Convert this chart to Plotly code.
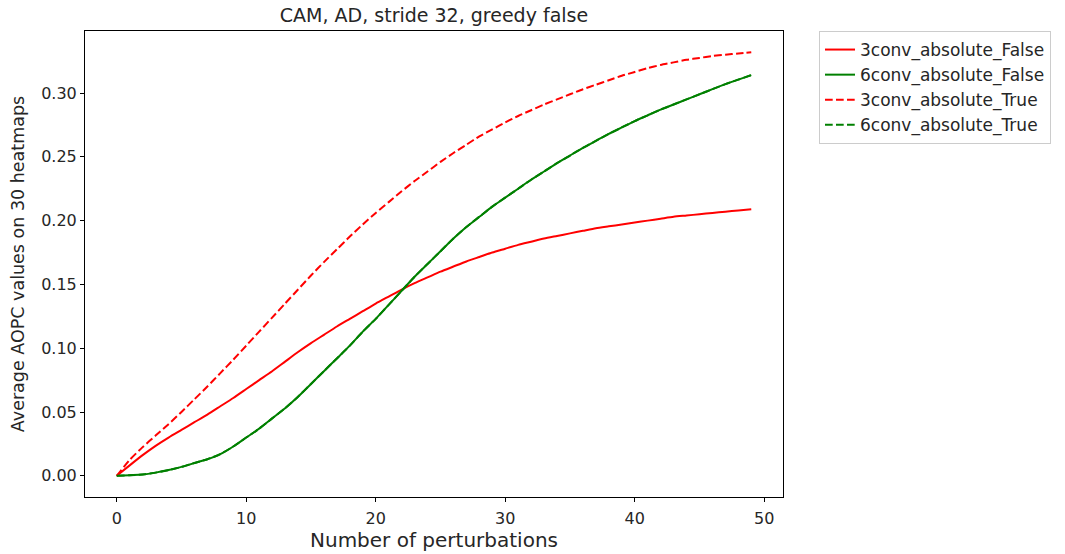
import plotly.graph_objects as go

perturbations = list(range(50))

conv3_abs_false = [0, 0.0082, 0.0162, 0.0235, 0.030, 0.036, 0.042, 0.048, 0.0545, 0.061,
                   0.068, 0.075, 0.082, 0.0895, 0.097, 0.104, 0.1105, 0.117, 0.123, 0.129,
                   0.135, 0.1405, 0.146, 0.151, 0.1555, 0.160, 0.164, 0.168, 0.1715, 0.175,
                   0.178, 0.181, 0.1835, 0.186, 0.188, 0.190, 0.192, 0.194, 0.1955, 0.197,
                   0.1985, 0.200, 0.2015, 0.203, 0.204, 0.205, 0.206, 0.207, 0.208, 0.209]

conv6_abs_false = [0, 0.0005, 0.001, 0.0025, 0.0045, 0.007, 0.010, 0.013, 0.017, 0.023,
                   0.030, 0.037, 0.045, 0.053, 0.062, 0.072, 0.082, 0.092, 0.102, 0.113,
                   0.123, 0.134, 0.145, 0.156, 0.166, 0.176, 0.186, 0.195, 0.203, 0.211,
                   0.218, 0.225, 0.232, 0.2385, 0.245, 0.251, 0.257, 0.2625, 0.268, 0.273,
                   0.278, 0.2825, 0.287, 0.291, 0.295, 0.299, 0.303, 0.307, 0.3105, 0.314]

conv3_abs_true = [0, 0.0125, 0.0225, 0.0315, 0.0405, 0.050, 0.060, 0.070, 0.0805, 0.091,
                  0.102, 0.113, 0.124, 0.135, 0.146, 0.157, 0.1675, 0.1775, 0.1875, 0.197,
                  0.206, 0.2145, 0.223, 0.231, 0.2385, 0.246, 0.253, 0.2595, 0.266, 0.2715,
                  0.277, 0.282, 0.2865, 0.291, 0.295, 0.299, 0.303, 0.3065, 0.310, 0.3135,
                  0.3165, 0.3195, 0.322, 0.324, 0.326, 0.3275, 0.329, 0.330, 0.331, 0.332]

# 6conv_absolute_True coincides with 6conv_absolute_False in the picture
conv6_abs_true = list(conv6_abs_false)

FONT = "DejaVu Sans"
DASH = "7.7px,3.3px"

fig = go.Figure()
fig.add_trace(go.Scatter(x=perturbations, y=conv3_abs_false, mode="lines",
                         name="3conv_absolute_False",
                         line=dict(color="#ff0000", width=2, shape="spline", smoothing=0.6)))
fig.add_trace(go.Scatter(x=perturbations, y=conv6_abs_false, mode="lines",
                         name="6conv_absolute_False",
                         line=dict(color="#008000", width=2, shape="spline", smoothing=0.6)))
fig.add_trace(go.Scatter(x=perturbations, y=conv3_abs_true, mode="lines",
                         name="3conv_absolute_True",
                         line=dict(color="#ff0000", width=2, dash=DASH, shape="spline", smoothing=0.6)))
fig.add_trace(go.Scatter(x=perturbations, y=conv6_abs_true, mode="lines",
                         name="6conv_absolute_True",
                         line=dict(color="#008000", width=2, dash=DASH, shape="spline", smoothing=0.6)))

W, H = 1065, 554
fig.update_layout(
    width=W, height=H,
    margin=dict(l=85, r=W - 783, t=31, b=H - 497),
    paper_bgcolor="white", plot_bgcolor="white",
    font=dict(family=FONT, size=16, color="#262626"),
    title=dict(text="CAM, AD, stride 32, greedy false", x=(434 / W), xanchor="center",
               y=1 - 15.5 / H, yanchor="middle", font=dict(size=19, color="#262626")),
    legend=dict(x=(819 - 85) / 698, y=1.0, xanchor="left", yanchor="top",
                bordercolor="#cccccc", borderwidth=1, bgcolor="white",
                font=dict(size=17, color="#262626")),
    showlegend=True,
)

fig.update_xaxes(
    range=[-2.45, 51.45], tickvals=[0, 10, 20, 30, 40, 50],
    showgrid=False, zeroline=False, showline=True, linecolor="black", linewidth=1,
    mirror=True, ticks="outside", ticklen=4, tickcolor="black",
    tickfont=dict(size=16), automargin=False, ticklabelstandoff=3,
    title=dict(text="Number of perturbations", font=dict(size=20), standoff=5),
)
fig.update_yaxes(
    range=[-0.0166, 0.3486], tickvals=[0, 0.05, 0.10, 0.15, 0.20, 0.25, 0.30],
    tickformat=".2f",
    showgrid=False, zeroline=False, showline=True, linecolor="black", linewidth=1,
    mirror=True, ticks="outside", ticklen=4, tickcolor="black",
    tickfont=dict(size=16), automargin=False,
    title=dict(text="Average AOPC values on 30 heatmaps", font=dict(size=17.5), standoff=12),
)

# remove the browser's default 8px page margin so the figure starts at the page corner
fig.write_html("out.html", config={"displayModeBar": False},
               post_script="document.body.style.margin='0';")
